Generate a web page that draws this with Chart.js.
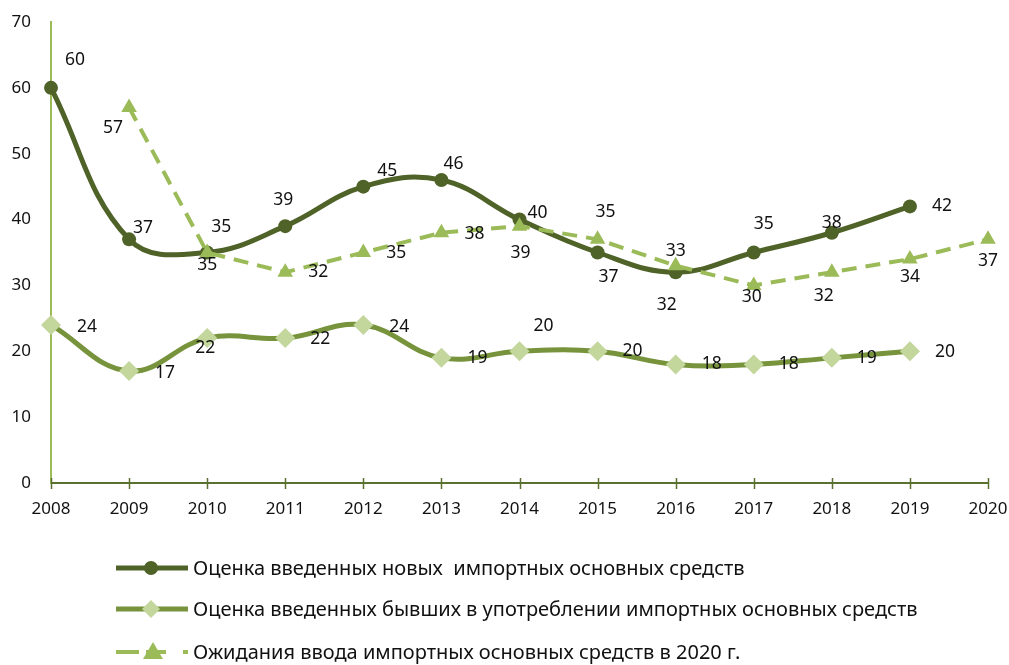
<!DOCTYPE html>
<html>
<head>
<meta charset="utf-8">
<script src="https://cdn.jsdelivr.net/npm/chart.js@4"></script>
<style>
  html, body { margin: 0; padding: 0; background: #ffffff; }
  #wrap { width: 1009px; height: 665px; position: relative; }
</style>
</head>
<body>
<div id="wrap"><canvas id="chart"></canvas></div>
<script>
// Years on the category axis
const years = ['2008','2009','2010','2011','2012','2013','2014','2015','2016','2017','2018','2019','2020'];

// Series values
const newAssets      = [60, 37, 35, 39, 45, 46, 40, 35, 32, 35, 38, 42, null];
const usedAssets     = [24, 17, 22, 22, 24, 19, 20, 20, 18, 18, 19, 20, null];
const expected2020   = [null, 57, 35, 32, 35, 38, 39, 37, 33, 30, 32, 34, 37];

// Y axis ticks
const yTicks = [0, 10, 20, 30, 40, 50, 60, 70];

// Series names
const seriesNames = [
  'Оценка введенных новых  импортных основных средств',
  'Оценка введенных бывших в употреблении импортных основных средств',
  'Ожидания ввода импортных основных средств в 2020 г.'
];

// Value-label placement relative to each point (dx, dy)
const newLabelShift = [[24,-28],[14,-11],[14,-25],[-2,-26],[24,-16],[12,-16],[18,-7],[8,-40],[-9,33],[10,-28],[0,-10],[32,0],[0,0]];
const usedLabelShift = [[36,2],[36,2],[-2,10],[35,1],[36,2],[36,0],[24,-25],[35,0],[36,0],[35,0],[35,0],[35,1],[0,0]];
const expLabelShift = [[0,0],[-16,20],[0,13],[33,0],[33,1],[33,1],[1,27],[11,38],[0,-15],[-2,12],[-8,24],[0,18],[0,22]];

const FONT = '"Noto Sans", "Open Sans", sans-serif';
const DARK = '#4F6228';
const MID = '#77933C';
const PALE = '#C3D69B';
const LIGHT = '#9BBB59';

const labelShifts = [newLabelShift, usedLabelShift, expLabelShift];

// Numbers next to the points
const valueLabels = {
  id: 'valueLabels',
  afterDatasetsDraw(chart) {
    const ctx = chart.ctx;
    ctx.save();
    ctx.font = '17.5px ' + FONT;
    ctx.fillStyle = '#111111';
    ctx.textAlign = 'center';
    ctx.textBaseline = 'middle';
    chart.data.datasets.forEach((ds, di) => {
      const meta = chart.getDatasetMeta(di);
      meta.data.forEach((pt, i) => {
        const v = ds.data[i];
        if (v === null || v === undefined) return;
        const sh = labelShifts[di][i];
        ctx.fillText(String(v), pt.x + sh[0], pt.y + sh[1]);
      });
    });
    ctx.restore();
  }
};

// Tick marks crossing the category axis
const crossTicks = {
  id: 'crossTicks',
  afterDraw(chart) {
    const ctx = chart.ctx;
    const xs = chart.scales.x;
    const y0 = xs.top;
    ctx.save();
    ctx.strokeStyle = '#5A7030';
    ctx.lineWidth = 1.5;
    xs.ticks.forEach((t, i) => {
      const x = Math.round(xs.getPixelForTick(i)) + 0.5;
      ctx.beginPath();
      ctx.moveTo(x, y0 - 5);
      ctx.lineTo(x, y0 + 6);
      ctx.stroke();
    });
    ctx.restore();
  }
};

// Legend drawn below the plot: line sample with marker, then the name
const legendBelow = {
  id: 'legendBelow',
  afterDraw(chart) {
    const ctx = chart.ctx;
    const rows = [568, 609, 652];
    const x0 = 116, x1 = 188, xm = 151, xt = 193;
    ctx.save();
    ctx.font = '20px ' + FONT;
    ctx.textBaseline = 'middle';
    ctx.textAlign = 'left';
    rows.forEach((y, r) => {
      ctx.lineCap = 'butt';
      if (r === 0) {
        ctx.strokeStyle = DARK; ctx.lineWidth = 5;
        ctx.beginPath(); ctx.moveTo(x0, y); ctx.lineTo(x1, y); ctx.stroke();
        ctx.fillStyle = DARK;
        ctx.beginPath(); ctx.arc(xm, y, 7, 0, Math.PI * 2); ctx.fill();
      } else if (r === 1) {
        ctx.strokeStyle = MID; ctx.lineWidth = 5;
        ctx.beginPath(); ctx.moveTo(x0, y); ctx.lineTo(x1, y); ctx.stroke();
        ctx.fillStyle = PALE;
        ctx.beginPath();
        ctx.moveTo(xm, y - 9); ctx.lineTo(xm + 9, y); ctx.lineTo(xm, y + 9); ctx.lineTo(xm - 9, y);
        ctx.closePath(); ctx.fill();
      } else {
        ctx.strokeStyle = LIGHT; ctx.lineWidth = 4;
        ctx.beginPath(); ctx.moveTo(x0, y); ctx.lineTo(x0 + 23, y); ctx.stroke();
        ctx.beginPath(); ctx.moveTo(x0 + 30, y); ctx.lineTo(x0 + 50, y); ctx.stroke();
        ctx.beginPath(); ctx.moveTo(x1 - 5, y); ctx.lineTo(x1, y); ctx.stroke();
        ctx.fillStyle = LIGHT;
        ctx.beginPath();
        ctx.moveTo(xm + 2, y - 10); ctx.lineTo(xm + 12, y + 7); ctx.lineTo(xm - 8, y + 7);
        ctx.closePath(); ctx.fill();
      }
      ctx.fillStyle = '#111111';
      ctx.fillText(seriesNames[r], xt, y + 1);
    });
    ctx.restore();
  }
};

const chart = new Chart(document.getElementById('chart'), {
  type: 'line',
  data: {
    labels: years,
    datasets: [
      {
        label: seriesNames[0],
        data: newAssets,
        borderColor: DARK,
        backgroundColor: DARK,
        borderWidth: 5,
        pointStyle: 'circle',
        pointRadius: 7,
        pointBorderWidth: 0,
        pointBackgroundColor: DARK,
        tension: 0.4,
        order: 1
      },
      {
        label: seriesNames[1],
        data: usedAssets,
        borderColor: MID,
        backgroundColor: PALE,
        borderWidth: 5,
        pointStyle: 'rectRot',
        pointRadius: 10,
        pointBorderWidth: 0,
        pointBackgroundColor: PALE,
        tension: 0.4,
        order: 2
      },
      {
        label: seriesNames[2],
        data: expected2020,
        borderColor: LIGHT,
        backgroundColor: LIGHT,
        borderWidth: 4,
        borderDash: [15, 9],
        pointStyle: 'triangle',
        pointRadius: 9,
        pointBorderWidth: 0,
        pointBackgroundColor: LIGHT,
        tension: 0,
        order: 0
      }
    ]
  },
  options: {
    responsive: true,
    maintainAspectRatio: false,
    animation: false,
    events: [],
    layout: { padding: { top: 22, right: 21, bottom: 142, left: 0 } },
    plugins: {
      legend: { display: false },
      tooltip: { enabled: false },
      title: { display: false }
    },
    scales: {
      x: {
        type: 'category',
        offset: false,
        grid: { display: false, drawTicks: false },
        border: { display: true, color: '#5A7030', width: 2 },
        ticks: {
          padding: 16,
          color: '#111111',
          font: { family: FONT, size: 17 },
          maxRotation: 0,
          autoSkip: false
        },
        afterFit(s) { s.height = 40; s.paddingLeft = 0; s.paddingRight = 0; }
      },
      y: {
        min: 0,
        max: 70,
        afterBuildTicks(s) { s.ticks = yTicks.map(v => ({ value: v })); },
        grid: { display: false, drawTicks: false },
        border: { display: true, color: LIGHT, width: 2 },
        ticks: {
          padding: 20,
          color: '#111111',
          font: { family: FONT, size: 17 }
        },
        afterFit(s) { s.width = 51; s.paddingTop = 0; s.paddingBottom = 0; }
      }
    }
  },
  plugins: [valueLabels, crossTicks, legendBelow]
});
</script>
</body>
</html>
